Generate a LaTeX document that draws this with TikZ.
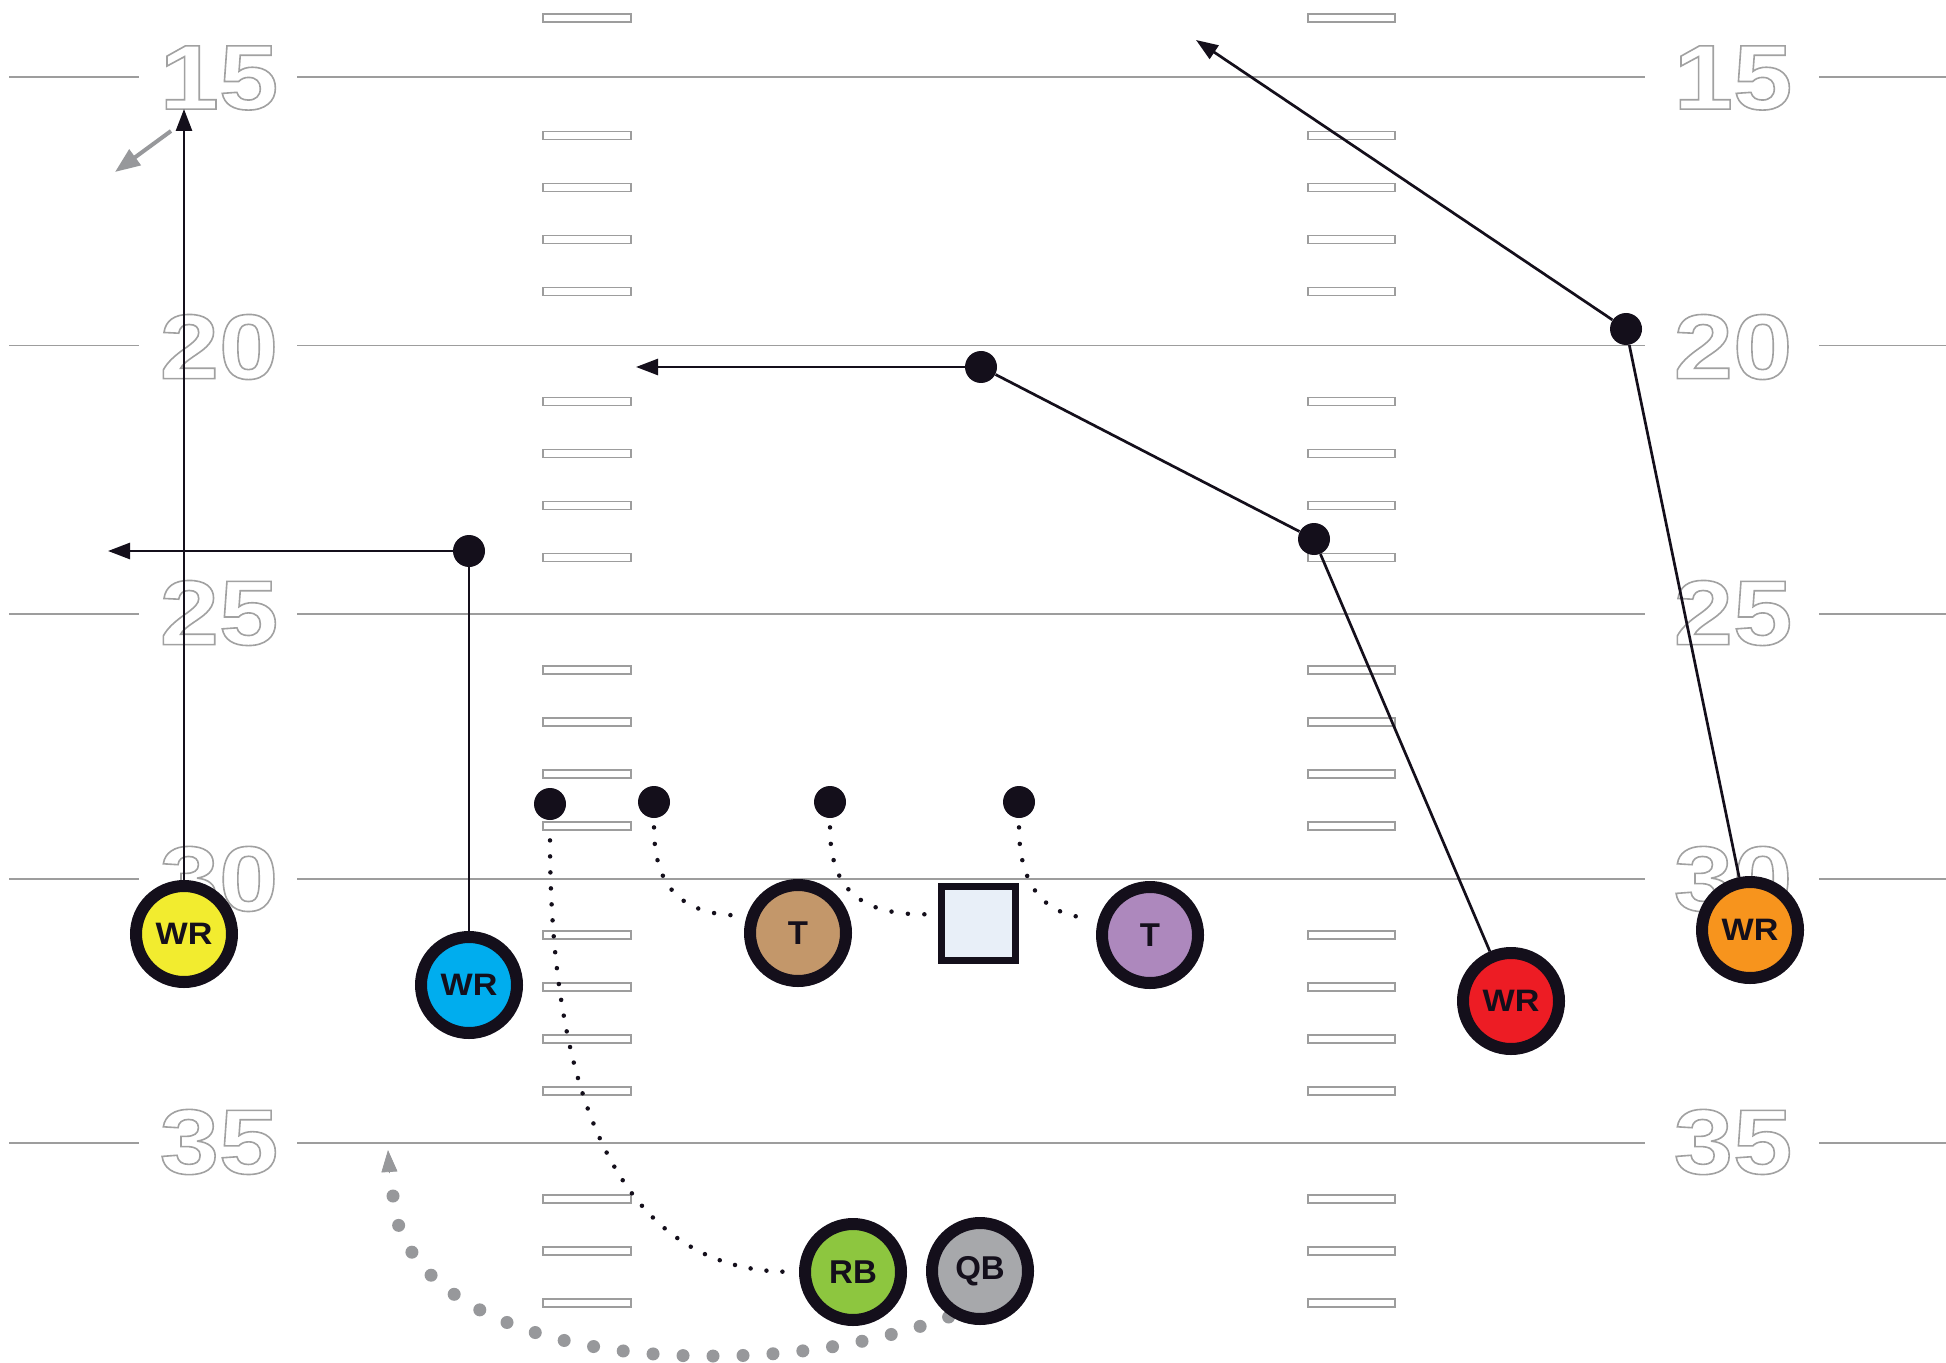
\documentclass[tikz,border=0pt]{standalone}
\usepackage{fontspec}
\setmainfont{Liberation Sans}
\newfontfamily\numfont{Liberation Sans}[FakeStretch=1.16]
\newfontfamily\wrfont{Liberation Sans}[FakeStretch=1.1]
\newfontfamily\labfont{Liberation Sans}
\usetikzlibrary{arrows.meta}

\definecolor{ink}{HTML}{140F1B}
\definecolor{linegray}{HTML}{9D9D9D}
\definecolor{routegray}{HTML}{97989B}
\definecolor{pyellow}{HTML}{F2EC2F}
\definecolor{pblue}{HTML}{00ADEE}
\definecolor{pbrown}{HTML}{C3976A}
\definecolor{ppurple}{HTML}{AD88BD}
\definecolor{pred}{HTML}{ED1C24}
\definecolor{porange}{HTML}{F7941D}
\definecolor{pgreen}{HTML}{8DC63F}
\definecolor{pgrey}{HTML}{A7A8AB}
\definecolor{sqfill}{HTML}{E8EFF8}

\pgfdeclarelayer{field}
\pgfdeclarelayer{paths}
\pgfsetlayers{field,paths,main}

% hollow yard numbers: white glyph fill with a thin grey stroke
\newcommand\hollow[1]{%
  \special{pdf:literal direct 2 Tr 0.8 w 0.63 G}#1\special{pdf:literal direct 0 Tr}}
\newcommand\yardnum[4]{%
  \node[numtxt] (#1) at (#2,#3) {\hollow{#4}};}

\begin{document}
\begin{tikzpicture}[x=0.5pt,y=-0.5pt,
  yardline/.style={draw=linegray,line width=0.85pt},
  hashmark/.style={draw=linegray,fill=white,line width=0.6pt},
  numtxt/.style={inner sep=0pt,text=white,font=\numfont\bfseries\fontsize{46}{46}\selectfont},
  player/.style={circle,draw=ink,line width=6pt,minimum size=48pt,inner sep=0pt,
    text=ink,font=\labfont\bfseries\fontsize{16.5}{16.5}\selectfont},
  wrplayer/.style={player,font=\wrfont\bfseries\fontsize{15.5}{15.5}\selectfont},
  blockdot/.style={circle,fill=ink,minimum size=16pt,inner sep=0pt},
  route/.style={draw=ink,line width=1.35pt,-{Triangle[length=11pt,width=8pt]}},
  routeseg/.style={draw=ink,line width=1.35pt},
  dotline/.style={draw=ink,line width=2.25pt,line cap=round,dash pattern=on 0pt off 8.25pt},
  motion/.style={draw=routegray,line width=6.5pt,line cap=round,dash pattern=on 0pt off 15pt},
  grayarrow/.style={draw=routegray,fill=routegray,line width=2pt,-{Triangle[length=12.5pt,width=9.5pt]}}
]
\useasboundingbox (0,0) rectangle (1946,1363);

% ---------- field ----------
\begin{pgfonlayer}{field}
  \fill[white] (0,0) rectangle (1946,1363);
  \foreach \Y in {77,345.5,614,879,1143}{
    \draw[yardline] (9,\Y) -- (139,\Y);
    \draw[yardline] (297,\Y) -- (1645,\Y);
    \draw[yardline] (1819,\Y) -- (1946,\Y);
  }
  % hash marks
  \foreach \Y in {79.5,345.5,614,879}{
    \foreach \d in {56,108,160,212}{
      \draw[hashmark] (543,{\Y+\d-4}) rectangle (631,{\Y+\d+4});
      \draw[hashmark] (1308,{\Y+\d-4}) rectangle (1395,{\Y+\d+4});
    }
  }
  \foreach \d in {56,108,160}{
    \draw[hashmark] (543,{1143+\d-4}) rectangle (631,{1143+\d+4});
    \draw[hashmark] (1308,{1143+\d-4}) rectangle (1395,{1143+\d+4});
  }
  \draw[hashmark] (543,14) rectangle (631,22);
  \draw[hashmark] (1308,14) rectangle (1395,22);
  % yard numbers
  \yardnum{nl15}{219}{78}{15}
  \yardnum{nl20}{219}{347}{20}
  \yardnum{nl25}{219}{613}{25}
  \yardnum{nl30}{219}{879}{30}
  \yardnum{nl35}{219}{1142}{35}
  \yardnum{nr15}{1733}{78}{15}
  \yardnum{nr20}{1733}{347}{20}
  \yardnum{nr25}{1733}{613}{25}
  \yardnum{nr30}{1733}{879}{30}
  \yardnum{nr35}{1733}{1142}{35}
\end{pgfonlayer}

% ---------- players ----------
\node[wrplayer,fill=pyellow] (wry) at (184,934) {WR};
\node[wrplayer,fill=pblue] (wrb) at (469,985) {WR};
\node[player,fill=pbrown] (tb) at (798,933) {T};
\node[draw=ink,fill=sqfill,line width=3.5pt,minimum width=37pt,minimum height=37pt,inner sep=0pt] (ctr) at (978.5,923) {};
\node[player,fill=ppurple] (tp) at (1150,935) {T};
\node[wrplayer,fill=pred] (wrr) at (1511,1001) {WR};
\node[wrplayer,fill=porange] (wro) at (1750,930) {WR};
\node[player,fill=pgreen] (rb) at (853,1272) {RB};
\node[player,fill=pgrey] (qb) at (980,1271) {QB};

% block points and route breaks
\node[blockdot] (k1) at (550,804) {};
\node[blockdot] (k2) at (654,802) {};
\node[blockdot] (k3) at (830,802) {};
\node[blockdot] (k4) at (1019,802) {};
\node[blockdot] (bdot) at (469,551) {};
\node[blockdot] (rdot1) at (1314,539) {};
\node[blockdot] (rdot2) at (981,367) {};
\node[blockdot] (odot) at (1626,329) {};

% route ends
\coordinate (ytip) at (184,109);
\coordinate (btip) at (108,551);
\coordinate (rtip) at (636,367);
\coordinate (otip) at (1196,40);
\coordinate (ga0) at (171,131);
\coordinate (ga1) at (115,172);
\coordinate (qbmid) at (701,1356);
\coordinate (qbend) at (393,1196);
\coordinate (qbarr) at (389.5,1173);
\coordinate (qbtip) at (388,1150);

% ---------- routes ----------
\begin{pgfonlayer}{paths}
  \draw[route] (wry) -- (ytip);
  \draw[routeseg] (wrb) -- (bdot);
  \draw[route] (bdot) -- (btip);
  \draw[routeseg] (wrr) -- (rdot1) -- (rdot2);
  \draw[route] (rdot2) -- (rtip);
  \draw[routeseg] (wro) -- (odot);
  \draw[route] (odot) -- (otip);
  \draw[grayarrow] (ga0) -- (ga1);

  % blocking paths
  \draw[dotline,shorten <=4.5pt,shorten >=2pt] (k2.south) .. controls (654,880) and (675,916) .. (tb.161);
  \draw[dotline,shorten <=4.5pt,shorten >=5pt] (k3.south) .. controls (830,880) and (851,916) .. ([yshift=4.5pt]ctr.west);
  \draw[dotline,shorten <=4.5pt,shorten >=4pt] (k4.south) .. controls (1019,880) and (1040,916) .. (tp.162);
  \draw[dotline,dash pattern=on 0pt off 8pt,shorten <=10pt,shorten >=7pt] (k1.south) .. controls (550,1030) and (590,1268) .. (rb.west);

  % quarterback motion, dotted back from the arrow end
  \draw[motion] (qbend) .. controls (398,1290) and (520,1354) .. (qbmid)
     .. controls (790,1357) and (870,1345) .. (qb.237);
  \draw[draw=routegray,fill=routegray,line width=0.4pt,-{Triangle[length=11pt,width=8pt]}] (qbarr) -- (qbtip);
\end{pgfonlayer}
\end{tikzpicture}
\end{document}
